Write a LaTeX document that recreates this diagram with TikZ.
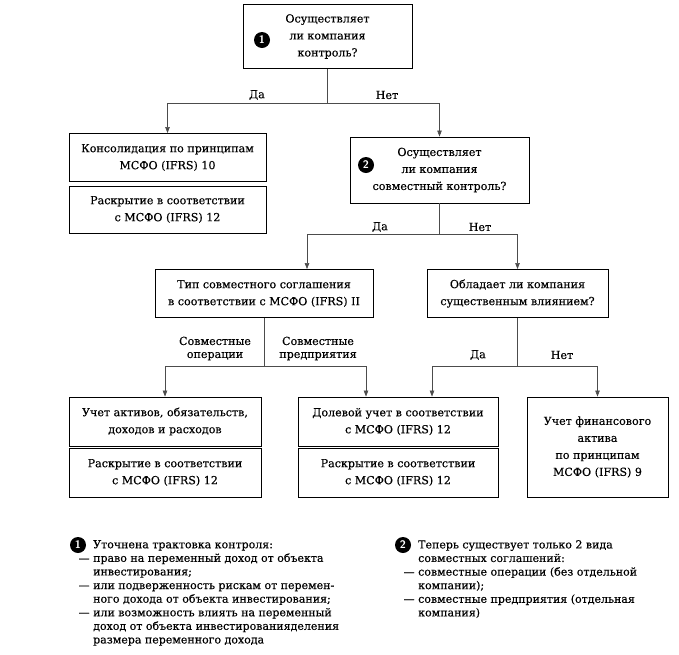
\documentclass[tikz,border=0pt]{standalone}
\usepackage{fontspec}
\setmainfont{DejaVu Serif}[FakeBold=0.4]
\usetikzlibrary{arrows.meta}
\begin{document}
\begin{tikzpicture}[x=1pt,y=-1pt,
  box/.style={draw=black, line width=0.9pt, align=center, inner sep=0pt,
    font=\fontsize{11.1}{17}\selectfont},
  conn/.style={draw=black!70, line width=0.6pt},
  arr/.style={conn, -{Triangle[length=6pt,width=4.5pt]}},
  lbl/.style={align=center, inner sep=0pt, font=\fontsize{11.1}{13}\selectfont},
  note/.style={align=left, inner sep=0pt, anchor=north west, font=\fontsize{11}{13.6}\selectfont},
  num/.style={circle, fill=black, text=white, inner sep=0pt, minimum size=16pt,
    font=\sffamily\bfseries\fontsize{11}{11}\selectfont}
]
\useasboundingbox (0,0) rectangle (679,654);

% boxes
\node[box, minimum width=169pt, minimum height=64pt] (q1) at (327.5,36.5) {Осуществляет\\ли компания\\контроль?};
\node[num] (n1) at (262,40) {1};
\node[box, minimum width=197pt, minimum height=48pt] (cons) at (167.5,157.5) {Консолидация по принципам\\МСФО (IFRS) 10};
\node[box, minimum width=197pt, minimum height=47pt] (rask1) at (167.5,209.5) {Раскрытие в соответствии\\с МСФО (IFRS) 12};
\node[box, minimum width=179pt, minimum height=66pt] (q2) at (439.5,170) {Осуществляет\\ли компания\\совместный контроль?};
\node[num] (n2) at (366,165) {2};
\node[box, minimum width=218pt, minimum height=48pt] (tip) at (264,293.5) {Тип совместного соглашения\\в соответствии с МСФО (IFRS) II};
\node[box, minimum width=181pt, minimum height=48pt] (obl) at (517.5,293.5) {Обладает ли компания\\существенным влиянием?};
\node[box, minimum width=192pt, minimum height=49pt] (uch) at (165,421.5) {Учет активов, обязательств,\\доходов и расходов};
\node[box, minimum width=192pt, minimum height=49pt] (rask2) at (165,472.5) {Раскрытие в соответствии\\с МСФО (IFRS) 12};
\node[box, minimum width=200pt, minimum height=49pt] (dol) at (398,421.5) {Долевой учет в соответствии\\с МСФО (IFRS) 12};
\node[box, minimum width=200pt, minimum height=49pt] (rask3) at (398,472.5) {Раскрытие в соответствии\\с МСФО (IFRS) 12};
\node[box, minimum width=141pt, minimum height=100pt] (fin) at (597.5,447) {Учет финансового\\актива\\по принципам\\МСФО (IFRS) 9};

% connectors
\draw[conn] (q1.south) -- ++(0,34) coordinate (j1);
\draw[arr] (j1) -| (cons.north);
\draw[arr] (j1) -| (q2.north);
\node[lbl] (da1) at (257,95) {Да};
\node[lbl] (net1) at (387,95) {Нет};

\draw[conn] (q2.south) -- ++(0,31) coordinate (j2);
\draw[arr] (j2) -| ([xshift=43pt]tip.north);
\draw[arr] (j2) -| (obl.north);
\node[lbl] (da2) at (380,227) {Да};
\node[lbl] (net2) at (480,227) {Нет};

\draw[conn] (tip.south) -- ++(0,48) coordinate (j3);
\draw[arr] (j3) -| (uch.north);
\draw[arr] (j3) -| ([xshift=-32pt]dol.north);
\node[lbl] (so) at (215,348.5) {Совместные\\операции};
\node[lbl] (sp) at (318,348.5) {Совместные\\предприятия};

\draw[conn] (obl.south) -- ++(0,48) coordinate (j4);
\draw[arr] (j4) -| ([xshift=34pt]dol.north);
\draw[arr] (j4) -| (fin.north);
\node[lbl] (da3) at (478,355) {Да};
\node[lbl] (net3) at (562,355) {Нет};

% notes
\node[num] (m1) at (78,545) {1};
\node[note] (t1) at (93,540) {Уточнена трактовка контроля:\\
\llap{— }право на переменный доход от объекта\\
инвестирования;\\
\llap{— }или подверженность рискам от перемен-\\
ного дохода от объекта инвестирования;\\
\llap{— }или возможность влиять на переменный\\
доход от объекта инвестированияделения\\
размера переменного дохода};

\node[num] (m2) at (403,545) {2};
\node[note] (t2) at (418,540) {Теперь существует только 2 вида\\
совместных соглашений:\\
\llap{— }совместные операции (без отдельной\\
компании);\\
\llap{— }совместные предприятия (отдельная\\
компания)};
\end{tikzpicture}
\end{document}
